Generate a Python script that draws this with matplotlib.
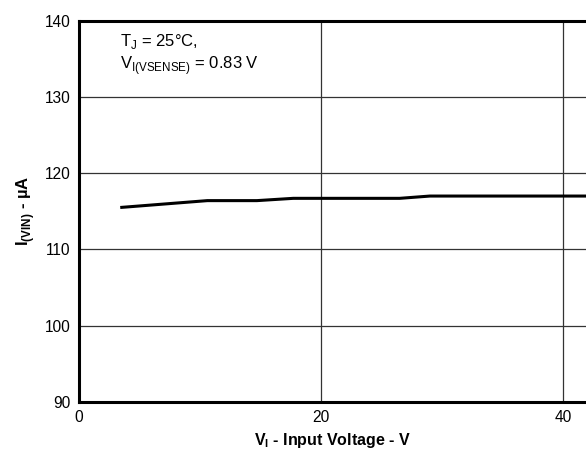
import matplotlib
matplotlib.use("Agg")
import matplotlib.pyplot as plt
import numpy as np

plt.rcParams["font.family"] = ["Liberation Sans", "DejaVu Sans"]
plt.rcParams["mathtext.fontset"] = "custom"
plt.rcParams["mathtext.rm"] = "Liberation Sans"
plt.rcParams["mathtext.bf"] = "Liberation Sans:bold"

# input voltage (V) vs supply current (uA)
v_in = [3.4, 10.6, 14.7, 17.7, 26.5, 29.0, 42.0]
i_vin = [115.5, 116.4, 116.4, 116.7, 116.7, 117.0, 117.0]

xticks = [0, 20, 40]
yticks = [90, 100, 110, 120, 130, 140]

fig = plt.figure(figsize=(5.86, 4.51), dpi=100)
ax = fig.add_axes([0.135, 0.109, 0.865, 0.845])

ax.plot(v_in, i_vin, color='k', lw=2.2, solid_capstyle='butt', zorder=3)

ax.set_xlim(0, 41.9)
ax.set_ylim(90, 140)
ax.set_xticks(xticks)
ax.set_yticks(yticks)
ax.tick_params(length=0, labelsize=11.2, pad=6)
ax.grid(True, color='#333333', lw=0.9)

for s in ['left', 'bottom', 'top']:
    ax.spines[s].set_linewidth(2.2)
ax.spines['right'].set_visible(False)

ax.set_xlabel(r"V$_\mathbf{I}$ - Input Voltage - V", fontweight='bold', fontsize=11.5)
ax.set_ylabel(r"I$_\mathbf{(VIN)}$ - µA", fontweight='bold', fontsize=12, labelpad=6)

ax.text(3.4, 138.5, "T$_\\mathrm{J}$ = 25°C,\nV$_\\mathrm{I(VSENSE)}$ = 0.83 V",
        fontsize=12, va='top', ha='left', linespacing=1.2)

plt.savefig("out.png", dpi=100)
